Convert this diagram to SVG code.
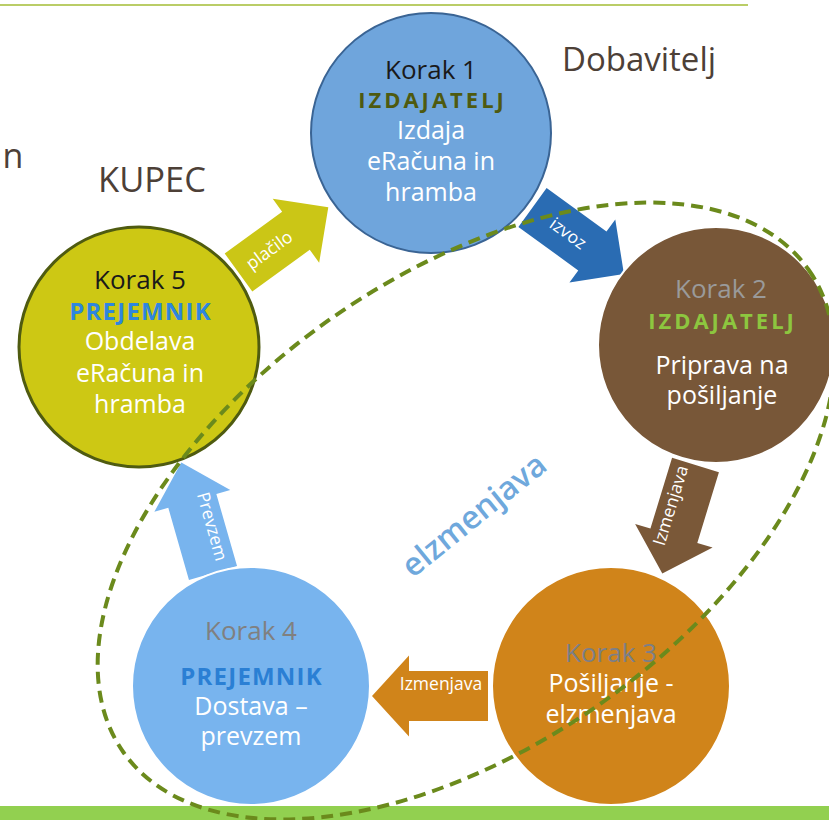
<svg xmlns="http://www.w3.org/2000/svg" width="829" height="820" viewBox="0 0 829 820">
<style>
text{font-family:"Open Sans","Liberation Sans",sans-serif;text-anchor:middle}
.t{font-size:25px;fill:#ffffff}
.k{font-size:26px}
.role{font-size:22px;font-weight:bold;letter-spacing:3px}
.pr{font-size:24px;font-weight:bold;letter-spacing:1.2px}
.al{font-size:17.5px;fill:#ffffff}
.hd{font-size:33px;fill:#4d4037}
</style>
<rect width="829" height="820" fill="#ffffff"/>
<line x1="0" y1="5" x2="748" y2="5" stroke="#a3bd35" stroke-width="1.6"/>
<rect x="0" y="806" width="829" height="14" fill="#92d050"/>
<text class="hd" x="639" y="71">Dobavitelj</text>
<text class="hd" x="152" y="192" style="font-size:34.5px">KUPEC</text>
<text x="13" y="168" style="font-size:34px;fill:#4d4037">n</text>
<g id="connectors">
 <g transform="translate(238.5,272.5) rotate(-36)">
  <polygon points="0,-23.5 71,-23.5 71,-39.5 111,0 71,39.5 71,23.5 0,23.5" fill="#cbc616"/>
  <text class="al" x="38" y="6">plačilo</text>
 </g>
 <g transform="translate(532.5,207.5) rotate(36)">
  <polygon points="0,-24 74,-24 74,-39 113,0 74,39 74,24 0,24" fill="#2a6cb3"/>
  <text class="al" x="44" y="6">izvoz</text>
 </g>
 <g transform="translate(695.5,465) rotate(107)">
  <polygon points="0,-24.5 74,-24.5 74,-40.5 113.5,0 74,40.5 74,24.5 0,24.5" fill="#7a5838"/>
  <text class="al" x="46" y="-6" transform="rotate(180 46 0)">Izmenjava</text>
 </g>
 <g transform="translate(488,696) rotate(180)">
  <polygon points="0,-25 79,-25 79,-40.5 116,0 79,40.5 79,25 0,25" fill="#d0841a"/>
  <text class="al" x="47" y="-6" transform="rotate(180 47 0)">Izmenjava</text>
 </g>
 <g transform="translate(213,573) rotate(-106)">
  <polygon points="0,-25 75,-25 75,-39.5 115,0 75,39.5 75,25 0,25" fill="#78b4ee"/>
  <text class="al" x="45" y="-6" transform="rotate(180 45 0)">Prevzem</text>
 </g>
</g>
<g id="node1">
 <circle cx="431" cy="133" r="120" fill="#6fa5dc" stroke="#3a6494" stroke-width="2"/>
 <text class="k" x="431" y="79" fill="#1a1a1a">Korak 1</text>
 <text class="role" x="432.5" y="108" fill="#4e5a10">IZDAJATELJ</text>
 <text class="t" x="431" y="139">Izdaja</text>
 <text class="t" x="431" y="170">eRačuna in</text>
 <text class="t" x="431" y="201">hramba</text>
</g>
<g id="node2">
 <circle cx="716" cy="345" r="118" fill="#785738" stroke="#ffffff" stroke-width="2"/>
 <text class="k" x="721" y="298" fill="#9a9a9a">Korak 2</text>
 <text class="role" x="722.5" y="329" fill="#8dc63f">IZDAJATELJ</text>
 <text class="t" x="722" y="374">Priprava na</text>
 <text class="t" x="722" y="404">pošiljanje</text>
</g>
<g id="node3">
 <circle cx="611" cy="686" r="119" fill="#d0841a" stroke="#ffffff" stroke-width="2"/>
 <text class="k" x="611" y="662" fill="#7b7f88">Korak 3</text>
 <text class="t" x="611" y="692">Pošiljanje -</text>
 <text class="t" x="611" y="723">elzmenjava</text>
</g>
<g id="node4">
 <circle cx="251" cy="686" r="119" fill="#78b4ee" stroke="#ffffff" stroke-width="2"/>
 <text class="k" x="251" y="640" fill="#808080">Korak 4</text>
 <text class="pr" x="251.6" y="685" fill="#2a7fd4">PREJEMNIK</text>
 <text class="t" x="251" y="715">Dostava –</text>
 <text class="t" x="251" y="745">prevzem</text>
</g>
<g id="node5">
 <circle cx="139" cy="347" r="120" fill="#cdc814" stroke="#4f5b10" stroke-width="3"/>
 <text class="k" x="140" y="289" fill="#1a1a1a">Korak 5</text>
 <text class="pr" x="140.6" y="320" fill="#2e86de">PREJEMNIK</text>
 <text class="t" x="140" y="350">Obdelava</text>
 <text class="t" x="140" y="382">eRačuna in</text>
 <text class="t" x="140" y="413">hramba</text>
</g>
<text x="474" y="526" transform="rotate(-39 474 515)" style="font-size:32px;font-weight:600;fill:#6fa8dc">elzmenjava</text>
<ellipse cx="466" cy="511" rx="419" ry="235" transform="rotate(-35.15 466 511)" fill="none" stroke="#6b8a1c" stroke-width="4" stroke-dasharray="12 7"/>
</svg>
